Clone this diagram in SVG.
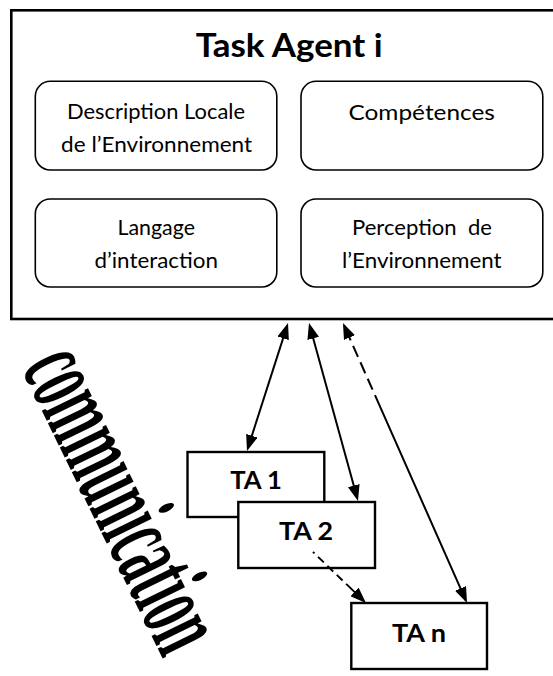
<svg xmlns="http://www.w3.org/2000/svg" width="553" height="676" viewBox="0 0 553 676">
  <style>
    .frame { fill: #ffffff; stroke: #000000; stroke-width: 2.6; }
    .part { fill: #ffffff; stroke: #000000; stroke-width: 1.6; }
    .ta { fill: #ffffff; stroke: #000000; stroke-width: 2.4; }
    .lbl { font-family: Lato, "Open Sans", "Liberation Sans", sans-serif; font-size: 22px; fill: #000000; text-anchor: middle; }
    .title { font-family: Lato, "Open Sans", "Liberation Sans", sans-serif; font-size: 32px; font-weight: bold; fill: #000000; text-anchor: middle; }
    .talbl { font-family: Lato, "Open Sans", "Liberation Sans", sans-serif; font-size: 24.5px; font-weight: bold; fill: #000000; text-anchor: middle; }
    .link { fill: none; stroke: #000000; stroke-width: 2; }
    .art { font-family: "Liberation Serif", "DejaVu Serif", serif; font-size: 112px; font-weight: bold; fill: #000000; }
  </style>
  <defs>
    <marker id="head" viewBox="0 0 16 12" markerWidth="16" markerHeight="12" refX="13" refY="6" markerUnits="userSpaceOnUse" orient="auto-start-reverse">
      <path d="M0,0 L16,6 L0,12 z" fill="#000000"/>
    </marker>
  </defs>

  <!-- main agent frame -->
  <g id="task-agent">
    <rect class="frame" x="11.3" y="10.3" width="560" height="308.7"/>
    <text class="title" x="289.2" y="56.7" textLength="187" lengthAdjust="spacingAndGlyphs">Task Agent i</text>
  </g>

  <g id="description-locale">
    <rect class="part" x="35.3" y="81.3" width="241.5" height="88.7" rx="15" ry="15"/>
    <text class="lbl" x="156" y="119" textLength="178" lengthAdjust="spacingAndGlyphs">Description Locale</text>
    <text class="lbl" x="156.6" y="151.7" textLength="191" lengthAdjust="spacingAndGlyphs">de l’Environnement</text>
  </g>

  <g id="competences">
    <rect class="part" x="301" y="81.3" width="241.8" height="88.7" rx="15" ry="15"/>
    <text class="lbl" x="421.7" y="119.5" textLength="146.4" lengthAdjust="spacingAndGlyphs">Compétences</text>
  </g>

  <g id="langage">
    <rect class="part" x="35.3" y="199" width="241.5" height="88" rx="15" ry="15"/>
    <text class="lbl" x="156.2" y="235" textLength="77.5" lengthAdjust="spacingAndGlyphs">Langage</text>
    <text class="lbl" x="156.2" y="268" textLength="123.5" lengthAdjust="spacingAndGlyphs">d’interaction</text>
  </g>

  <g id="perception">
    <rect class="part" x="301" y="199" width="241.8" height="88" rx="15" ry="15"/>
    <text class="lbl" x="422" y="235" textLength="140" lengthAdjust="spacingAndGlyphs" xml:space="preserve">Perception  de</text>
    <text class="lbl" x="421.8" y="268" textLength="159.6" lengthAdjust="spacingAndGlyphs">l’Environnement</text>
  </g>

  <!-- peer task agents -->
  <g id="ta-1">
    <rect class="ta" x="187.5" y="452" width="136.8" height="65"/>
    <text class="talbl" x="256" y="489.3" textLength="51.7" lengthAdjust="spacingAndGlyphs">TA 1</text>
  </g>
  <g id="ta-2">
    <rect class="ta" x="238.3" y="502" width="136.7" height="66"/>
    <text class="talbl" x="306" y="540" textLength="54" lengthAdjust="spacingAndGlyphs">TA 2</text>
  </g>
  <g id="ta-n">
    <rect class="ta" x="351.3" y="603" width="135.7" height="66"/>
    <text class="talbl" x="419" y="641.7" textLength="54" lengthAdjust="spacingAndGlyphs">TA n</text>
  </g>

  <!-- connectors -->
  <g id="connectors">
    <line class="link" x1="287.1" y1="325.9" x2="247.9" y2="448.1" marker-start="url(#head)" marker-end="url(#head)"/>
    <line class="link" x1="309.8" y1="325.9" x2="357.2" y2="498.1" marker-start="url(#head)" marker-end="url(#head)"/>
    <line class="link" x1="344.2" y1="325.7" x2="465.8" y2="600.3" stroke-dasharray="16 6 12 6 12 6 12 6 400" marker-start="url(#head)" marker-end="url(#head)"/>
    <line class="link" x1="313" y1="552" x2="363.8" y2="600.9" stroke-width="1.8" stroke-dasharray="2 5 8 5 8 5 8 5 60" marker-end="url(#head)"/>
  </g>

  <!-- slanted word art -->
  <g id="communication-label">
    <text class="art" transform="translate(21 368) rotate(64)" x="0" y="0" textLength="324" lengthAdjust="spacingAndGlyphs">communication</text>
  </g>
</svg>
